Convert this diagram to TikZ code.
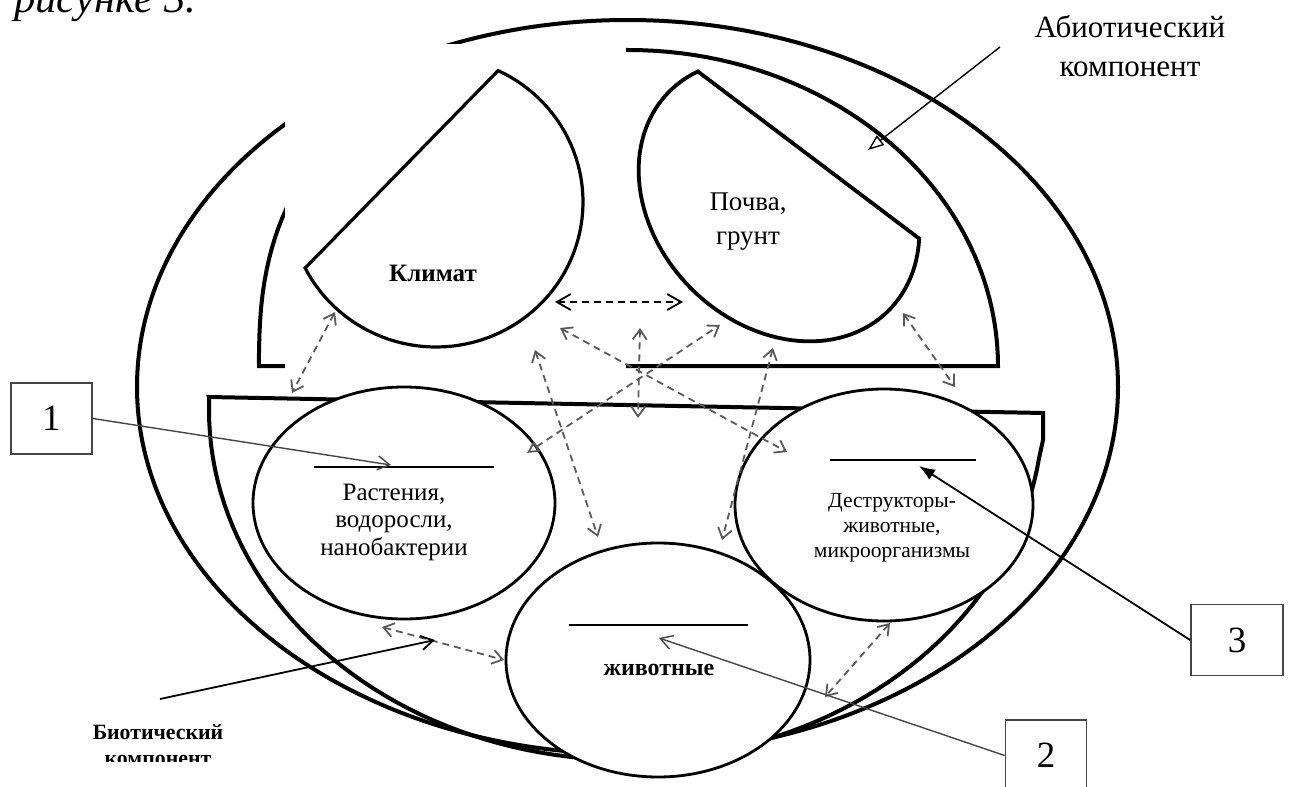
\documentclass[tikz,border=0pt]{standalone}
\usepackage{fontspec}
\setmainfont{Liberation Serif}
\usetikzlibrary{arrows.meta,shapes.geometric}
\definecolor{link-grey}{HTML}{5A5A5A}
\definecolor{box-grey}{HTML}{454545}

\tikzset{
  zone/.style={line width=2pt, black},
  sector/.style={line width=1.6pt, fill=white},
  oval/.style={draw, ellipse, line width=1.4pt, fill=white, inner sep=0pt},
  mark line/.style={line width=1pt},
  link/.style={link-grey, line width=0.9pt, dash pattern=on 3.5pt off 2.5pt,
    {Straight Barb[length=5pt,width=7pt]}-{Straight Barb[length=5pt,width=7pt]}},
  pointer/.style={line width=0.7pt, -{Straight Barb[length=6pt,width=7pt]}},
  numbox/.style={draw=box-grey, line width=0.9pt, minimum width=40.5pt,
    minimum height=35.5pt, inner sep=0pt, font=\fontsize{18.5}{20}\selectfont},
}

\begin{document}
\begin{tikzpicture}[x=0.5pt, y=-0.5pt]
    % Diagram: ecosystem, abiotic half above, biotic half below.
    % Coordinates: (x, y) in pixels of the sketch, y grows downwards
    %   outer ring centre (627.5,387), radii 490.5 x 367
    %   abiotic cap from x=259 to x=998, base y=366, top y=50
    %   biotic bowl from (209,397) to (1043,413), bottom y=760
    %   climate cut from ellipse (436,202), soil cut from tilted ellipse (779,201)
    %   ovals: plants (404,503), animals (658,660), decomposers (884,505)
    \useasboundingbox (0,0) rectangle (1292,787);
    \node[anchor=base west, font=\itshape\fontsize{21.4}{25}\selectfont]
      (caption) at (7,12) {рисунке 3.};

    \draw[zone] (627.5,387) ellipse [x radius=490.5, y radius=367];
    \draw[zone] (259,366) -- plot[domain=1:89, samples=45]
      ({628.5-369.5*cos(\x)^0.8}, {366-316*sin(\x)^0.8}) -- (628.5,50)
      -- plot[domain=90:0, samples=45] ({628.5+369.5*cos(\x)}, {366-316*sin(\x)}) -- cycle;
    \draw[zone] (209,397) -- (1043,413) -- (1043,440) -- plot[domain=8:182, samples=90]
      ({626+417*cos(\x)}, {410+350*sin(\x)}) -- cycle;
    % the climate picture sits on a white patch
    \fill[white] (285,44) rectangle (626,380);

    % climate and soil cut ovals
    \draw[sector] plot[domain=-65:152.9, samples=80]
      ({436+147*cos(\x)}, {202+145*sin(\x)}) -- cycle;
    \draw[sector, line width=1.9pt] plot[domain=-35.8:196, samples=80]
      ({779+109.6*cos(\x)-87.7*sin(\x)}, {201+109.6*cos(\x)+87.7*sin(\x)}) -- cycle;
    \node[font=\bfseries\fontsize{12.5}{14}\selectfont] (climate) at (433,273) {Климат};
    \node[align=center, font=\fontsize{13.5}{17}\selectfont] (soil) at (748,222) {Почва,\\грунт};

    % living parts
    \node[oval, minimum width=151pt, minimum height=116pt] (plants) at (404,503) {};
    \node[oval, minimum width=152pt, minimum height=117pt] (animals) at (658,660) {};
    \node[oval, minimum width=149pt, minimum height=116pt] (decomp) at (884,505) {};
    \draw[mark line] (314,467) -- (494,467);
    \draw[mark line] (569,625) -- (748,625);
    \draw[mark line] (830,460) -- (976,460);
    \node[align=center, font=\fontsize{12.5}{13.75}\selectfont] (plantstext) at (394,522)
      {Растения,\\водоросли,\\нанобактерии};
    \node[font=\bfseries\fontsize{12}{14}\selectfont] (animalstext) at (659,670) {животные};
    \node[align=center, font=\fontsize{10.75}{12.5}\selectfont] (decomptext) at (892,528)
      {Деструкторы-\\животные,\\микроорганизмы};

    % labels and numbered boxes
    \node[align=center, font=\fontsize{15.5}{19.5}\selectfont] (abio) at (1130,46)
      {Абиотический\\компонент};
    \begin{scope}
      \clip (60,700) rectangle (260,761);
      \node[align=center, font=\bfseries\fontsize{10.9}{13}\selectfont] (bio) at (158,745)
        {Биотический\\компонент};
    \end{scope}
    \node[numbox] (n1) at (51.5,418.5) {1};
    \node[numbox] (n2) at (1046,755.5) {2};
    \node[numbox, minimum width=46pt] (n3) at (1237,640) {3};

    % ends of the links
    \coordinate (clim-soil-a) at (555,302);  \coordinate (clim-soil-b) at (683,302);
    \coordinate (mid-nw) at (560,328);       \coordinate (mid-se) at (787,452);
    \coordinate (mid-n) at (640,328);        \coordinate (mid-s) at (638,418);
    \coordinate (mid-ne) at (720,325);       \coordinate (mid-sw) at (527,453);
    \coordinate (clim-anim) at (535,350);    \coordinate (anim-clim) at (598,537);
    \coordinate (soil-anim) at (773,348);    \coordinate (anim-soil) at (722,540);
    \coordinate (clim-plant) at (335,312);   \coordinate (plant-clim) at (292,393);
    \coordinate (soil-dec) at (903,313);     \coordinate (dec-soil) at (955,387);
    \coordinate (plant-anim) at (382,627);   \coordinate (anim-plant) at (504,660);
    \coordinate (dec-anim) at (890,623);     \coordinate (anim-dec) at (825,697);

    \draw[link, black, {Straight Barb[length=7pt,width=8pt]}-{Straight Barb[length=7pt,width=8pt]}]
      (clim-soil-a) -- (clim-soil-b);
    \draw[link] (mid-nw) -- (mid-se);
    \draw[link] (mid-n) -- (mid-s);
    \draw[link, {Triangle[open,length=6pt,width=6pt]}-{Straight Barb[length=5pt,width=7pt]}]
      (mid-sw) -- (mid-ne);
    \draw[link] (clim-anim) -- (anim-clim);
    \draw[link] (soil-anim) -- (anim-soil);
    \draw[link] (clim-plant) -- (plant-clim);
    \draw[link] (soil-dec) -- (dec-soil);
    \draw[link] (plant-anim) -- (anim-plant);
    \draw[link] (dec-anim) -- (anim-dec);

    % pointers
    \coordinate (plant-mark) at (391,465);
    \coordinate (anim-mark) at (659,638);
    \coordinate (dec-mark) at (919,466);
    \coordinate (bio-start) at (160,699);
    \coordinate (bio-tip) at (435,640);
    \coordinate (abio-start) at (1000,47);
    \coordinate (abio-tip) at (868,150);
    \draw[pointer, draw=box-grey] (n1.east) -- (plant-mark);
    \draw[pointer, draw=box-grey] (n2.west) -- (anim-mark);
    \draw[line width=0.9pt, -{Latex[length=8pt,width=6pt]}] (n3.west) -- (dec-mark);
    \draw[pointer, line width=0.9pt] (bio-start) -- (bio-tip);
    \draw[line width=0.7pt, -{Triangle[open,length=8pt,width=6pt]}] (abio-start) -- (abio-tip);
  \end{tikzpicture}
\end{document}
